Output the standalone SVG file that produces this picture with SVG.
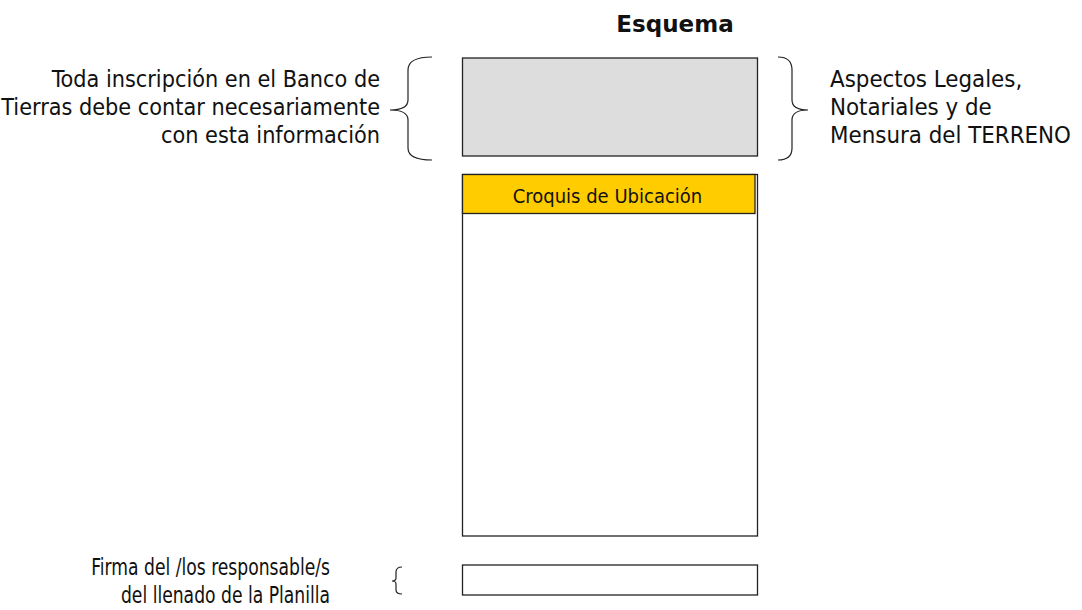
<svg xmlns="http://www.w3.org/2000/svg" width="1082" height="610" viewBox="0 0 1082 610">
<style>
.t{font-family:"DejaVu Sans Condensed","DejaVu Sans",sans-serif;font-size:23.2px;fill:#111}
.r{font-family:"DejaVu Sans Condensed","DejaVu Sans",sans-serif;font-size:23.8px;fill:#111}
.s{font-family:"DejaVu Sans Condensed","DejaVu Sans",sans-serif;font-size:20px;fill:#111}
.box{stroke:#222;stroke-width:1.3}
.br{fill:none;stroke:#222;stroke-width:1.2}
</style>
<rect width="1082" height="610" fill="#fff"/>
<g id="title"><text x="675" y="32" text-anchor="middle" style="font-family:'DejaVu Sans','Liberation Sans',sans-serif;font-size:23px;font-weight:bold;fill:#111">Esquema</text></g>
<g id="legal"><rect class="box" x="462.5" y="58" width="295" height="98" fill="#dddddd"/></g>
<g id="croquis">
<rect class="box" x="462.5" y="174.5" width="295" height="361.5" fill="#fff"/>
<rect class="box" x="462.5" y="174.5" width="292.5" height="39" fill="#ffcc00"/>
<text class="s" x="607.5" y="203" text-anchor="middle">Croquis de Ubicación</text>
</g>
<g id="firma"><rect class="box" x="462.5" y="565" width="295" height="30" fill="#fff"/></g>
<g id="left-note">
<text class="t" text-anchor="end"><tspan x="380" y="87">Toda inscripción en el Banco de</tspan><tspan x="380" y="115">Tierras debe contar necesariamente</tspan><tspan x="380" y="143">con esta información</tspan></text>
</g>
<g id="right-note">
<text class="r"><tspan x="830" y="87">Aspectos Legales,</tspan><tspan x="830" y="115">Notariales y de</tspan><tspan x="830" y="143">Mensura del TERRENO</tspan></text>
</g>
<g id="firma-note" transform="translate(330,0) scale(0.83,1)">
<text class="t" text-anchor="end" style="font-size:23px"><tspan x="0" y="575">Firma del /los responsable/s</tspan><tspan x="0" y="603">del llenado de la Planilla</tspan></text>
</g>
<g id="connectors">
<path class="br" d="M432,57 Q408,57 408,70 L408,100 Q408,110 390,110 Q408,110 408,120 L408,148 Q408,160 432,160"/>
<path class="br" d="M778,57 Q792,57 792,70 L792,100 Q792,110 808,110 Q792,110 792,120 L792,148 Q792,160 778,160"/>
<path class="br" d="M402,567 Q396,567 396,572 L396,578 Q396,581 392,581 Q396,581 396,584 L396,590 Q396,594 402,594"/>
</g>
</svg>
